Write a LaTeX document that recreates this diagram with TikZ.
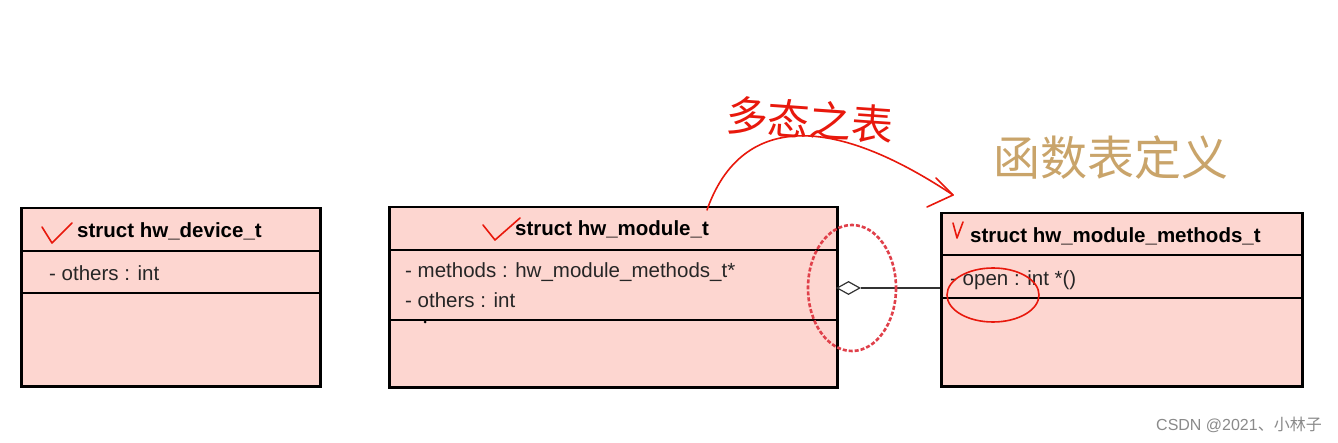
\documentclass[tikz,border=0pt]{standalone}
\usepackage{fontspec}
\setmainfont{Liberation Sans}
\newfontfamily\cjk{Noto Sans CJK SC}
\usetikzlibrary{arrows.meta,shapes.geometric}
\definecolor{boxfill}{HTML}{FDD6D0}
\definecolor{ink}{HTML}{E8180C}
\definecolor{dashink}{HTML}{E0404A}
\definecolor{gold}{HTML}{C9A46A}
\definecolor{wm}{HTML}{8A8A8A}
\begin{document}
\begin{tikzpicture}[x=1pt,y=-1pt,
  umlbox/.style={draw=black, line width=2.5pt, fill=boxfill, rectangle, anchor=north west, inner sep=0pt},
  titletext/.style={font=\fontsize{20.5}{24}\selectfont\bfseries, anchor=west, inner sep=0pt},
  attrtext/.style={font=\fontsize{20.5}{24}\selectfont, anchor=west, inner sep=0pt, text=black!85},
  divider/.style={line width=1.3pt},
  pen/.style={draw=ink, line width=1.6pt, line cap=round, line join=round}]
\useasboundingbox[fill=white] (0,0) rectangle (1338,443);

% boxes
\node[umlbox, minimum width=299pt, minimum height=178pt] (dev) at (20,207) {};
\node[umlbox, minimum width=448pt, minimum height=180pt] (mod) at (388,206) {};
\node[umlbox, minimum width=361pt, minimum height=173pt] (meth) at (940,212) {};

% dividers
\draw[divider] ([yshift=-44pt]dev.north west) -- ([yshift=-44pt]dev.north east);
\draw[divider] ([yshift=-86pt]dev.north west) -- ([yshift=-86pt]dev.north east);
\draw[divider] ([yshift=-44pt]mod.north west) -- ([yshift=-44pt]mod.north east);
\draw[divider] ([yshift=-114pt]mod.north west) -- ([yshift=-114pt]mod.north east);
\draw[divider] ([yshift=-43pt]meth.north west) -- ([yshift=-43pt]meth.north east);
\draw[divider] ([yshift=-86pt]meth.north west) -- ([yshift=-86pt]meth.north east);

% texts
\node[titletext] (devt) at (77,231) {struct hw\_device\_t};
\node[attrtext] (deva) at (49,273) {- others : int};
\node[titletext] (modt) at (515,229) {struct hw\_module\_t};
\node[attrtext] (moda) at (405,272) {- methods : hw\_module\_methods\_t*};
\node[attrtext] (modb) at (405,300) {- others : int};
\node[titletext] (metht) at (970,236) {struct hw\_module\_methods\_t};
\node[attrtext] (metha) at (950,280) {- open : int *()};
\node[circle, fill=black, inner sep=0pt, minimum size=3pt] (dot) at (425,322) {};

% aggregation
\node[diamond, draw=black!80, line width=1.2pt, fill=white, inner sep=0pt, minimum width=23pt, minimum height=13pt] (dia) at (848.5,288) {};
\draw[line width=1.2pt, black!80] (dia.east) -- (meth.west |- dia.east);

% red annotations
\draw[dashink, line width=2.6pt, dash pattern=on 4pt off 2pt] (852,288) ellipse [x radius=44, y radius=63];
\draw[pen] (993,295) ellipse [x radius=46, y radius=27];
\draw[pen] (42,227) -- (52,243) -- (72,223);
\draw[pen] (483,225) -- (495,240) -- (520,218);
\draw[pen] (953,223) -- (957,238) -- (963,222);

\coordinate (arcstart) at (707,210);
\coordinate (arctip) at (953,195);
\draw[pen] (arcstart) .. controls (735,130) and (810,100) .. (arctip);
\draw[pen] ([shift={(-17,-17)}]arctip) -- (arctip) -- ([shift={(-26,12)}]arctip);

\node[text=ink, font=\cjk\fontsize{42}{42}\selectfont, rotate=-4, inner sep=0pt] (note) at (810,120) {多态之表};
\node[text=gold, font=\cjk\fontsize{47}{47}\selectfont, inner sep=0pt] (fdef) at (1111,158) {函数表定义};
\node[text=wm, font=\fontsize{16}{16}\selectfont, anchor=east, inner sep=0pt] (wmk) at (1322,425) {CSDN @2021{\cjk 、小林子}};
\end{tikzpicture}
\end{document}
